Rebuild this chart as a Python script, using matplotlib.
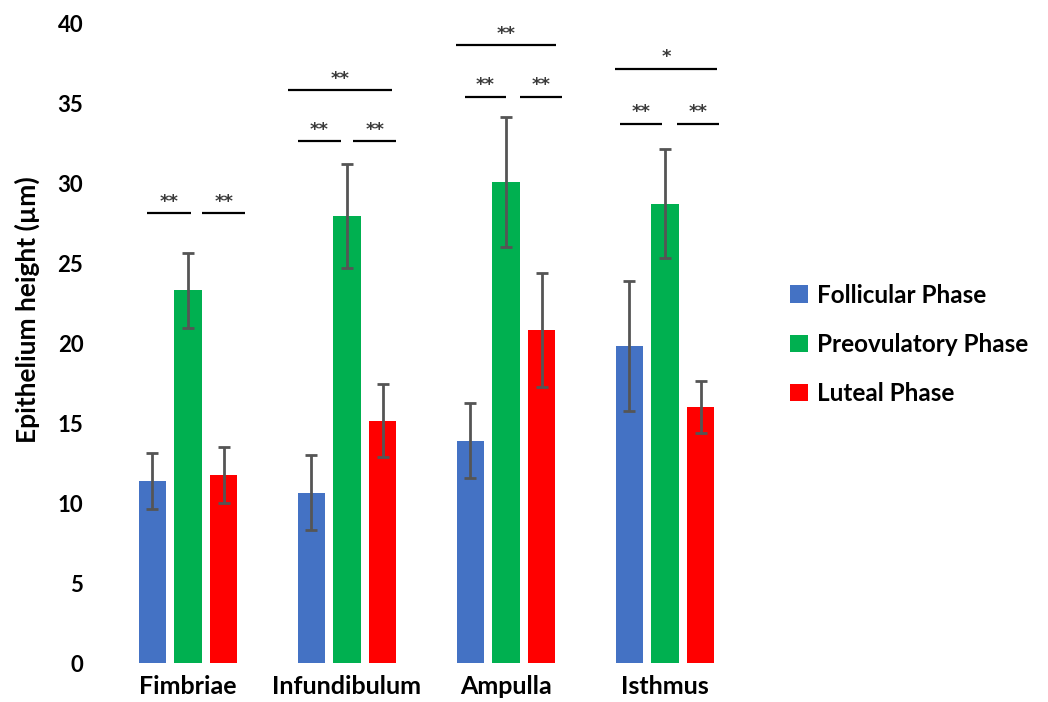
import matplotlib
matplotlib.use("Agg")
import matplotlib.pyplot as plt
import numpy as np

categories = ["Fimbriae", "Infundibulum", "Ampulla", "Isthmus"]
series_names = ["Follicular Phase", "Preovulatory Phase", "Luteal Phase"]
follicular = [11.4, 10.65, 13.9, 19.8]
follicular_err = [1.75, 2.35, 2.35, 4.05]
preovulatory = [23.3, 27.95, 30.05, 28.7]
preovulatory_err = [2.35, 3.25, 4.05, 3.4]
luteal = [11.75, 15.15, 20.8, 16.0]
luteal_err = [1.75, 2.3, 3.55, 1.6]
yticks = [0, 5, 10, 15, 20, 25, 30, 35, 40]

# significance brackets: (group, left offset, right offset, y, label) offsets in group units
brackets = [
    (0, -0.26, 0.02, 28.1, "**"), (0, 0.09, 0.36, 28.1, "**"),
    (1, -0.31, -0.04, 32.6, "**"), (1, 0.04, 0.31, 32.6, "**"), (1, -0.37, 0.28, 35.8, "**"),
    (2, -0.26, 0.0, 35.4, "**"), (2, 0.085, 0.355, 35.4, "**"), (2, -0.315, 0.315, 38.6, "**"),
    (3, -0.28, -0.02, 33.7, "**"), (3, 0.075, 0.34, 33.7, "**"), (3, -0.315, 0.33, 37.15, "*"),
]

colors = ["#4472C4", "#00B050", "#FF0000"]

fig = plt.figure(figsize=(10.48, 7.02), dpi=100)
ax = fig.add_axes([100/1048, 1-663/702, 660/1048, (663-23)/702])

x = np.arange(len(categories))
off = 0.2233
w = 0.173
vals = [follicular, preovulatory, luteal]
errs = [follicular_err, preovulatory_err, luteal_err]
for i in range(3):
    ax.bar(x + (i-1)*off, vals[i], w, color=colors[i], label=series_names[i], zorder=2)
    ax.errorbar(x + (i-1)*off, vals[i], yerr=errs[i], fmt="none", ecolor="#555555",
                elinewidth=2, capsize=4.5, capthick=2, zorder=3)

for g, l, r, y, lab in brackets:
    ax.plot([g+l, g+r], [y, y], color="black", lw=1.6, solid_capstyle="butt", zorder=4, clip_on=False)
    ax.text(g+(l+r)/2, y+0.15, lab, ha="center", va="bottom", fontsize=13, fontweight="bold",
            color="#3a3a3a", family="DejaVu Sans", zorder=4)

ax.set_ylim(0, 40)
ax.set_xlim(-(188-100)/159, (760-188)/159)
ax.set_yticks(yticks)
ax.set_yticklabels([str(v) for v in yticks], fontsize=16, fontweight="bold", family="Lato")
ax.set_xticks(x)
ax.set_xticklabels(categories, fontsize=18, fontweight="bold", family="Lato")
ax.tick_params(axis="y", length=0, pad=12)
ax.tick_params(axis="x", length=0, pad=9)
for s in ax.spines.values():
    s.set_visible(False)
ax.set_ylabel("Epithelium height (µm)", fontsize=19, fontweight="bold", family="Lato")
ax.yaxis.set_label_coords(-(100-40)/660, (663-310)/640)

leg = fig.legend(loc="upper left", bbox_to_anchor=(768/1048, 1-262/702), frameon=False,
                 prop={"family": "Lato", "weight": "bold", "size": 17.5},
                 handlelength=0.75, handleheight=0.75, handletextpad=0.35, labelspacing=1.07)

fig.savefig("out.png", dpi=100)
